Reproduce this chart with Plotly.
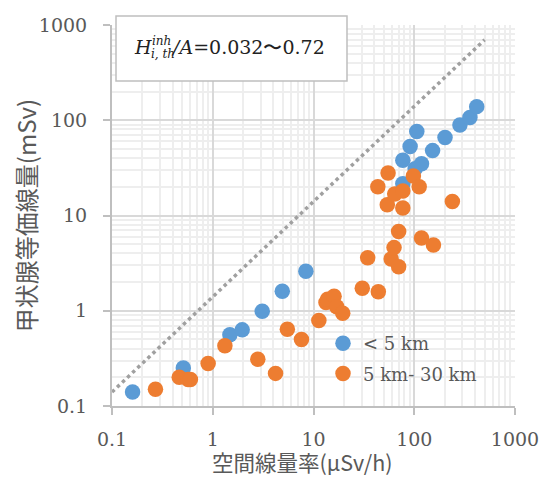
import plotly.graph_objects as go

# ---- data ----
near_x = [0.16, 0.51, 1.48, 1.96, 3.1, 4.9, 8.4, 77, 77, 91, 102, 106, 118, 152, 202, 284, 357, 417]
near_y = [0.14, 0.25, 0.56, 0.63, 0.99, 1.6, 2.6, 21.5, 38, 53, 31, 76, 35, 48, 66, 89, 107, 139]

far_x = [0.27, 0.465, 0.57, 0.6, 0.9, 1.32, 2.8, 4.2, 5.5, 7.6, 11.3, 13.3, 13.8, 16, 17, 19.5,
         30.5, 44, 34.5, 59, 63, 70, 70, 118, 155, 54, 77, 43.5, 55, 64, 77, 98, 112, 239]
far_y = [0.15, 0.20, 0.19, 0.19, 0.28, 0.43, 0.31, 0.22, 0.64, 0.50, 0.79, 1.22, 1.32, 1.42, 1.1, 0.94,
         1.72, 1.58, 3.6, 3.5, 4.6, 2.9, 6.8, 5.8, 4.9, 13, 12, 20, 28, 16.8, 18.1, 26, 20, 14]

ref_x = [0.1, 500]
ref_y = [0.14, 700]

tick_vals = [0.1, 1, 10, 100, 1000]
tick_text = ["0.1", "1", "10", "100", "1000"]

near_name = "< 5 km"
far_name = "5 km- 30 km"
x_title = "空間線量率(μSv/h)"
y_title = "甲状腺等価線量(mSv)"

# ---- layout geometry (page body has an 8px margin) ----
OFF = 8
W, H = 548, 477
PX0, PX1, PY0, PY1 = 112, 515, 25, 406  # plot area in window pixels
L = PX0 - OFF
T = PY0 - OFF
R = W - (PX1 - OFF)
B = H - (PY1 - OFF)
pw, ph = PX1 - PX0, PY1 - PY0


def xp(px):
    return (px - PX0) / pw


def yp(py):
    return (PY1 - py) / ph


GRAY = "#595959"
SERIF = "DejaVu Serif"
CJK = "Noto Sans CJK JP"

fig = go.Figure()
fig.add_trace(go.Scatter(x=ref_x, y=ref_y, mode="lines", showlegend=False,
                         line=dict(color="#a0a0a0", width=3.5, dash="dot"), hoverinfo="skip"))
fig.add_trace(go.Scatter(x=near_x, y=near_y, mode="markers", name=near_name, legendgroup="a",
                         marker=dict(color="#5B9BD5", size=15.5, line=dict(width=0))))
fig.add_trace(go.Scatter(x=far_x, y=far_y, mode="markers", name=far_name, legendgroup="b",
                         marker=dict(color="#ED7D31", size=15.5, line=dict(width=0))))

axis_common = dict(
    type="log",
    automargin=False,
    tickvals=tick_vals,
    ticktext=tick_text,
    showgrid=True,
    gridcolor="#d9d9d9",
    gridwidth=2,
    showline=True,
    linecolor="#bfbfbf",
    linewidth=2,
    ticks="outside",
    ticklen=7,
    tickwidth=2,
    tickcolor="#bfbfbf",
    zeroline=False,
    tickfont=dict(family=SERIF, size=19, color=GRAY),
    minor=dict(dtick="D1", showgrid=True, gridcolor="#eeeeee", gridwidth=1.5, ticks=""),
)

fig.update_xaxes(range=[-1, 3], ticklabelstandoff=8, **axis_common)
fig.update_yaxes(range=[-1, 3], ticklabelstandoff=12,
                 title=dict(text=y_title, font=dict(family=CJK, size=24, color=GRAY), standoff=6),
                 **axis_common)

# x-axis title (placed as annotation to match the reference's offset)
fig.add_annotation(xref="paper", yref="paper", x=xp(302), y=yp(462), xanchor="center", yanchor="middle",
                   text=x_title, showarrow=False, font=dict(family=CJK, size=21.5, color=GRAY))

# annotation box
fig.add_shape(type="rect", xref="paper", yref="paper",
              x0=xp(116), x1=xp(347), y0=yp(81), y1=yp(16),
              fillcolor="white", line=dict(color="#bfbfbf", width=1.5), layer="above")

ann_font = dict(family=SERIF, color="#222222")
fig.add_annotation(xref="paper", yref="paper", x=xp(132), y=yp(47), xanchor="left", yanchor="middle",
                   text="<i>H</i>", showarrow=False, font=dict(size=19, **ann_font))
fig.add_annotation(xref="paper", yref="paper", x=xp(150), y=yp(41), xanchor="left", yanchor="middle",
                   text="<i>inh</i>", showarrow=False, font=dict(size=12, **ann_font))
fig.add_annotation(xref="paper", yref="paper", x=xp(149), y=yp(54), xanchor="left", yanchor="middle",
                   text="<i>i, th</i>", showarrow=False, font=dict(size=12, **ann_font))
fig.add_annotation(xref="paper", yref="paper", x=xp(169), y=yp(47), xanchor="left", yanchor="middle",
                   text="<i>/A</i>=0.032〜0.72", showarrow=False, font=dict(size=19, **ann_font))

fig.update_layout(
    width=W, height=H,
    margin=dict(l=L, r=R, t=T, b=B, autoexpand=False),
    paper_bgcolor="white",
    plot_bgcolor="white",
    showlegend=True,
    legend=dict(x=xp(323), y=yp(325), xanchor="left", yanchor="top",
                bgcolor="rgba(0,0,0,0)", font=dict(family=SERIF, size=18, color=GRAY),
                tracegroupgap=4, itemwidth=30),
)

fig.write_html("out.html")
